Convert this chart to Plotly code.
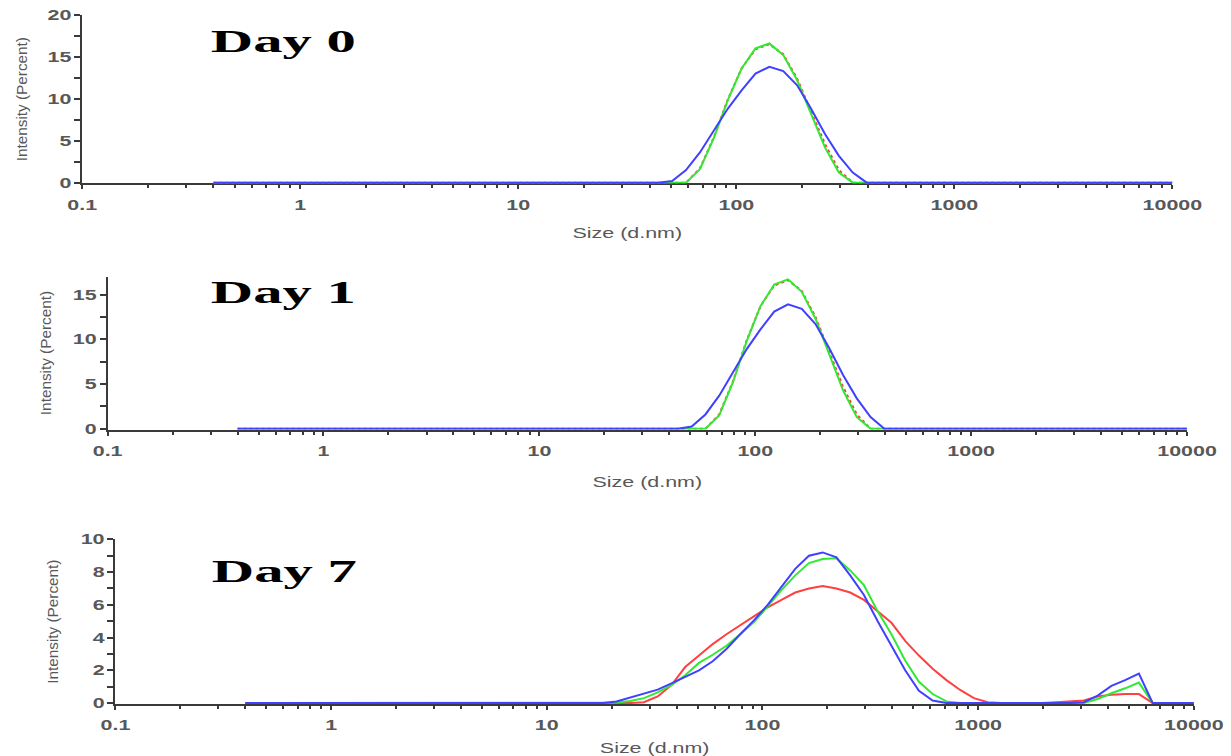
import plotly.graph_objects as go

# Malvern size classes (d.nm)
sizes = [0.4, 0.4632, 0.5365, 0.6213, 0.7195, 0.8332, 0.9649, 1.117, 1.294, 1.499,
         1.736, 2.010, 2.328, 2.696, 3.122, 3.615, 4.187, 4.849, 5.615, 6.503,
         7.531, 8.721, 10.10, 11.70, 13.54, 15.69, 18.17, 21.04, 24.36, 28.21,
         32.67, 37.84, 43.82, 50.75, 58.77, 68.06, 78.82, 91.28, 105.7, 122.4,
         141.8, 164.2, 190.1, 220.2, 255.0, 295.3, 342.0, 396.1, 458.7, 531.2,
         615.1, 712.4, 825.0, 955.4, 1106, 1281, 1484, 1718, 1990, 2305,
         2669, 3091, 3580, 4145, 4801, 5560, 6439, 7456, 8635, 10000]

day0_red = [0]*35 + [1.7, 5.4, 9.9, 13.6, 15.9, 16.5, 15.3, 12.4, 8.5, 4.6, 1.5] + [0]*24
day0_green = [0]*35 + [1.6, 5.3, 9.8, 13.6, 16.0, 16.6, 15.2, 12.2, 8.2, 4.2, 1.2] + [0]*24
day0_blue = [0]*33 + [0.2, 1.5, 3.6, 6.2, 8.8, 11.0, 13.0, 13.8, 13.3, 11.6, 8.8, 5.8, 3.2, 1.2] + [0]*23

day1_red = [0]*35 + [1.6, 5.3, 9.9, 13.7, 16.0, 16.6, 15.4, 12.5, 8.6, 4.7, 1.6] + [0]*24
day1_green = [0]*35 + [1.5, 5.2, 9.8, 13.7, 16.1, 16.7, 15.3, 12.3, 8.3, 4.3, 1.3] + [0]*24
day1_blue = [0]*33 + [0.25, 1.6, 3.7, 6.3, 8.9, 11.1, 13.1, 13.9, 13.4, 11.7, 9.0, 6.0, 3.4, 1.3] + [0]*23

day7_red = ([0]*29 + [0.05, 0.4, 1.1, 2.2, 2.9, 3.6, 4.2, 4.75, 5.3, 5.85, 6.3, 6.75, 7.0,
                      7.15, 7.0, 6.75, 6.3, 5.6, 4.9, 3.8, 2.9, 2.1, 1.4, 0.8, 0.3, 0.05]
            + [0]*4 + [0.05, 0.1, 0.15, 0.4, 0.5, 0.55, 0.55] + [0]*4)
day7_green = ([0]*27 + [0.03, 0.12, 0.3, 0.65, 1.1, 1.7, 2.45, 2.95, 3.5, 4.2, 4.95, 5.9, 6.9,
                        7.8, 8.55, 8.8, 8.85, 8.1, 7.2, 5.6, 4.2, 2.6, 1.3, 0.55, 0.1]
              + [0]*10 + [0.25, 0.6, 0.9, 1.25] + [0]*4)
day7_blue = ([0]*27 + [0.1, 0.33, 0.55, 0.82, 1.2, 1.6, 2.0, 2.55, 3.3, 4.2, 5.05, 6.0, 7.1,
                       8.2, 9.0, 9.2, 8.9, 7.8, 6.6, 5.0, 3.5, 2.0, 0.75, 0.15]
             + [0]*10 + [0.05, 0.45, 1.05, 1.4, 1.8] + [0]*4)

day_labels = ["Day 0", "Day 1", "Day 7"]
x_title = "Size (d.nm)"
y_title = "Intensity (Percent)"

W, H = 1250, 762
# panel geometry in figure pixels: (left, right, top, bottom)
panels = [(74, 1191, 7, 179), (100, 1206, 274, 430), (108, 1213, 542, 710)]
y_ranges = [[-0.1, 20], [-0.085, 17], [-0.06, 10]]
y_dticks = [5, 5, 2]
y_minor = [2.5, 2.5, 1]
x_title_standoff = [16, 19, 11]
y_title_standoff = [24, 25, 26]
label_pos = [(280, 34), (280, 290), (281, 574)]

series = [
    (day0_red, day0_green, day0_blue),
    (day1_red, day1_green, day1_blue),
    (day7_red, day7_green, day7_blue),
]
colors = ["#ff4040", "#33e833", "#4040ff"]

AX = "#3a3a3a"
TICKFONT = dict(family="Liberation Sans", size=14.3, color="#585858", weight="bold")
TITLEFONT = dict(family="Liberation Sans", size=14.3, color="#585858")
YTITLEFONT = dict(family="Liberation Sans", size=15.3, color="#585858")

fig = go.Figure()
layout = dict(width=W, height=H, margin=dict(l=0, r=0, t=0, b=0),
              paper_bgcolor="white", plot_bgcolor="white", showlegend=False,
              annotations=[])

for i, (data, (l, r, t, b)) in enumerate(zip(series, panels)):
    xa = "x" if i == 0 else f"x{i+1}"
    ya = "y" if i == 0 else f"y{i+1}"
    for vals, col in zip(data, colors):
        fig.add_trace(go.Scatter(x=sizes, y=vals, mode="lines", xaxis=xa, yaxis=ya,
                                 line=dict(color=col, width=2,
                                           dash="dot" if (col == colors[0] and i < 2) else "solid"),
                                 hoverinfo="skip"))
    xkey = "xaxis" if i == 0 else f"xaxis{i+1}"
    ykey = "yaxis" if i == 0 else f"yaxis{i+1}"
    layout[xkey] = dict(
        type="log", range=[-1, 4], domain=[l / W, r / W], anchor=ya,
        showline=True, linecolor=AX, linewidth=2, showgrid=False, zeroline=False,
        ticks="outside", ticklen=4, tickwidth=2, tickcolor=AX, dtick=1,
        exponentformat="none", tickformat="~g", tickfont=TICKFONT, ticklabelstandoff=3,
        minor=dict(ticks="outside", ticklen=3, tickwidth=2, tickcolor=AX, dtick="D1", showgrid=False),
        title=dict(text=x_title, font=TITLEFONT, standoff=x_title_standoff[i]),
        layer="below traces",
    )
    layout[ykey] = dict(
        range=y_ranges[i], domain=[1 - b / H, 1 - t / H], anchor=xa,
        showline=True, linecolor=AX, linewidth=2, showgrid=False, zeroline=False,
        ticks="outside", ticklen=6, tickwidth=2, tickcolor=AX, dtick=y_dticks[i], tick0=0,
        tickfont=TICKFONT,
        minor=dict(ticks="outside", ticklen=6, tickwidth=2, tickcolor=AX, dtick=y_minor[i], showgrid=False),
        title=dict(text=y_title, font=YTITLEFONT, standoff=y_title_standoff[i]),
        layer="below traces",
    )
    # twin axis drawing the inner half of the crossing y ticks
    tkey = f"yaxis{i+4}"
    layout[tkey] = dict(
        range=y_ranges[i], overlaying=ya, anchor=xa, side="left",
        showline=False, showgrid=False, zeroline=False, showticklabels=False,
        ticks="inside", ticklen=6, tickwidth=2, tickcolor=AX, dtick=y_dticks[i], tick0=0,
        minor=dict(ticks="inside", ticklen=6, tickwidth=2, tickcolor=AX, dtick=y_minor[i], showgrid=False),
        layer="below traces",
    )
    lx, ly = label_pos[i]
    layout["annotations"].append(dict(
        text=day_labels[i], xref="paper", yref="paper", x=lx / W, y=1 - ly / H,
        xanchor="center", yanchor="middle", showarrow=False,
        font=dict(family="Liberation Serif", size=32.6, color="black", weight="bold")))

fig.update_layout(**layout)

# the reference picture is horizontally stretched; widen the horizontal texts to match
post = """
document.body.style.overflow = 'hidden';
var gd = document.getElementById('{plot_id}');
function stretch(sel, f) {
  gd.querySelectorAll(sel).forEach(function (t) {
    var w = t.getComputedTextLength();
    t.setAttribute('textLength', (w * f).toFixed(1));
    t.setAttribute('lengthAdjust', 'spacingAndGlyphs');
  });
}
stretch('.xtick text, .x2tick text, .x3tick text', 1.5);
stretch('.ytick text, .y2tick text, .y3tick text', 1.5);
stretch('.annotation-text', 1.8);
stretch('.g-xtitle text, .g-x2title text, .g-x3title text', 1.5);
"""
fig.write_html("out.html", post_script=post)
